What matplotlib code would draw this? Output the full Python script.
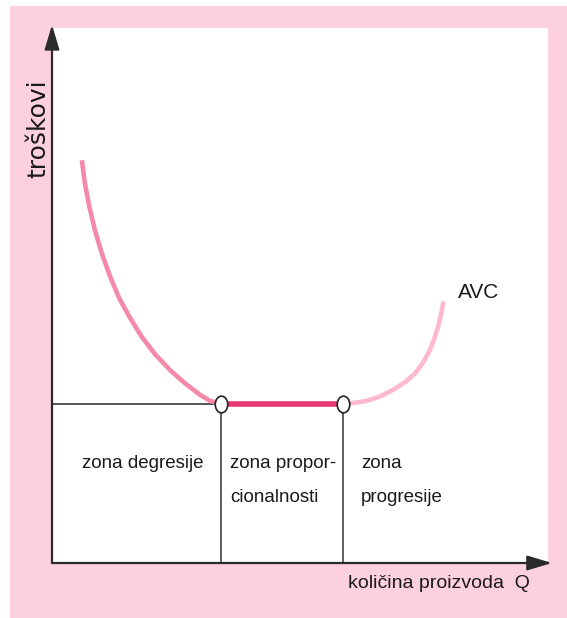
import matplotlib.pyplot as plt
from matplotlib.patches import Rectangle
from matplotlib.path import Path
from matplotlib.transforms import Affine2D

# AVC curve (quantity, cost) in arbitrary units
fall_q = [0.60, 0.66, 0.75, 0.86, 1.00, 1.17, 1.35, 1.57, 1.80, 2.07, 2.37, 2.67, 2.97, 3.17, 3.39]
fall_c = [7.35, 6.93, 6.50, 6.08, 5.65, 5.22, 4.83, 4.47, 4.13, 3.81, 3.52, 3.28, 3.07, 2.96, 2.91]
flat_q = [3.39, 5.85]
flat_c = [2.91, 2.91]
rise_q = [5.85, 6.05, 6.32, 6.59, 6.85, 7.09, 7.29, 7.46, 7.59, 7.69, 7.77, 7.83, 7.86]
rise_c = [2.91, 2.92, 2.96, 3.04, 3.16, 3.30, 3.46, 3.67, 3.89, 4.13, 4.37, 4.62, 4.77]

zone_lines = [["zona degresije"], ["zona propor-", "cionalnosti"], ["zona", "progresije"]]
curve_label = "AVC"
x_label = "količina proizvoda  Q"
y_label = "troškovi"

pink_bg = "#fdd0df"
text_color = "#1a1a1a"
font = ["Liberation Sans", "DejaVu Sans"]

fig = plt.figure(figsize=(5.67, 6.18), dpi=100)
fig.patch.set_facecolor("white")

# pink frame behind everything
bg = fig.add_axes([0, 0, 1, 1], zorder=-1)
bg.axis("off")
bg.set_xlim(0, 1)
bg.set_ylim(0, 1)
bg.add_patch(Rectangle((10 / 567, 0), 557 / 567, 612 / 618, facecolor=pink_bg, edgecolor="none"))

ax = fig.add_axes([52 / 567, 55 / 618, 498 / 567, 548 / 618])
ax.set_xlim(0, 10)
ax.set_ylim(0, 10)
ax.axis("off")

# white plotting area
ax.add_patch(Rectangle((0, 0), 9.96, 9.76, facecolor="white", edgecolor="none", zorder=0))

# axes with arrows
arrow = dict(arrowstyle="-|>,head_length=1.5,head_width=0.45", color="#2a2a2a", lw=1.6,
             shrinkA=0, shrinkB=0)
ax.annotate("", xy=(10.04, 0), xytext=(0, 0), arrowprops=arrow, annotation_clip=False)
ax.annotate("", xy=(0, 9.82), xytext=(0, 0), arrowprops=arrow, annotation_clip=False)

# zone boundaries
ax.plot([0, fall_q[-1]], [flat_c[0], flat_c[0]], color="#555555", lw=1.4, zorder=2)
for q in flat_q:
    ax.plot([q, q], [0, flat_c[0]], color="#444444", lw=1.2, zorder=2)

# AVC curve
ax.plot(fall_q, fall_c, color="#f48aa8", lw=3.3, solid_capstyle="butt",
        solid_joinstyle="round", zorder=3)
ax.plot(rise_q, rise_c, color="#ffb9cc", lw=3.3, solid_capstyle="butt",
        solid_joinstyle="round", zorder=3)
ax.plot(flat_q, flat_c, color="#e83670", lw=4, zorder=3)
oval = Path.unit_circle().transformed(Affine2D().scale(0.75, 1.0))
ax.plot(flat_q, flat_c, linestyle="none", marker=oval, markersize=12, markerfacecolor="white",
        markeredgecolor="#222222", markeredgewidth=1.2, zorder=4)

# labels
ax.text(1.83, 1.82, zone_lines[0][0], family=font, fontsize=13.5, ha="center", va="center",
        color=text_color)
for x0, lines in [(3.57, zone_lines[1]), (6.21, zone_lines[2])]:
    for line, y0 in zip(lines, [1.82, 1.20]):
        ax.text(x0, y0, line, family=font, fontsize=13.5, ha="left", va="center", color=text_color)
ax.text(8.15, 4.93, curve_label, family=font, fontsize=15, ha="left", va="center", color=text_color)
ax.text(9.6, -0.37, x_label, family=font, fontsize=14, ha="right", va="center", color=text_color)
ax.text(-0.28, 7.92, y_label, family="DejaVu Sans", fontsize=18, ha="center", va="center",
        rotation=90, color=text_color)

fig.savefig("out.png", dpi=100, facecolor=fig.get_facecolor())
